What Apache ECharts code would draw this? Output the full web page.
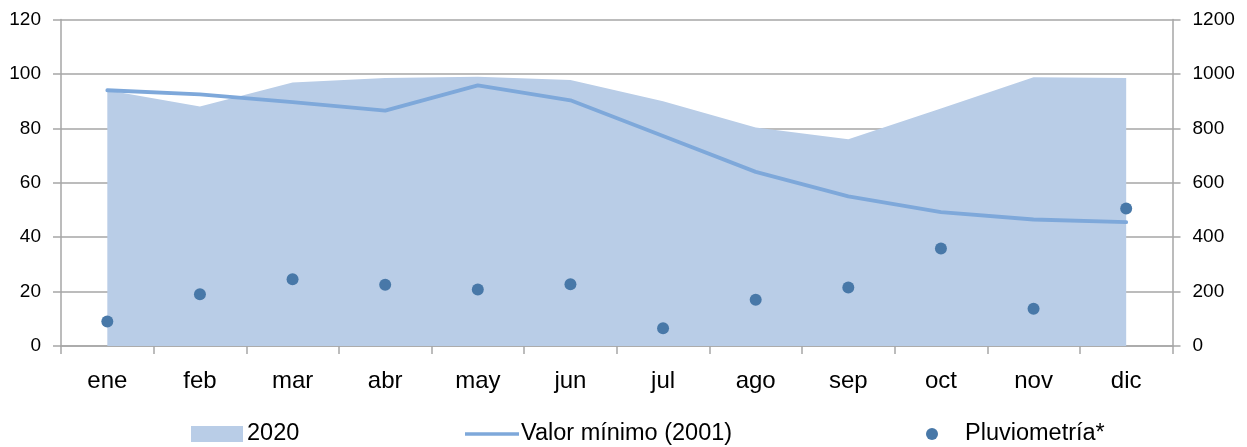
<!DOCTYPE html>
<html>
<head>
<meta charset="utf-8">
<script src="https://cdn.jsdelivr.net/npm/echarts@6/dist/echarts.min.js"></script>
<style>
  html, body { margin: 0; padding: 0; background: #fff; }
  #chart { width: 1247px; height: 447px; }
</style>
</head>
<body>
<div id="chart"></div>
<script>
// meses
var months = ['ene', 'feb', 'mar', 'abr', 'may', 'jun', 'jul', 'ago', 'sep', 'oct', 'nov', 'dic'];
// 2020 (eje izquierdo)
var year2020 = [94, 88, 96.8, 98.5, 99, 97.8, 90, 80.3, 76, 87.3, 98.8, 98.5];
// valor minimo 2001 (eje izquierdo)
var minimo2001 = [94, 92.5, 89.6, 86.5, 95.8, 90.3, 77.2, 64, 55, 49.2, 46.5, 45.5];
// pluviometria (eje derecho)
var pluvio = [90, 190, 245, 225, 208, 227, 65, 170, 215, 358, 137, 505];

var leftTicks = { min: 0, max: 120, interval: 20 };
var rightTicks = { min: 0, max: 1200, interval: 200 };

var FONT = 'Liberation Sans';
var GRAY = '#a6a6a6';
var legendText = { fontSize: 23.5, fontFamily: FONT, color: '#000' };

var chart = echarts.init(document.getElementById('chart'));
var option = {
    animation: false,
    textStyle: { fontFamily: FONT, color: '#000' },
    grid: { left: 61, right: 74.5, top: 19.5, bottom: 101 },
    legend: [
        {
            left: 191, top: 422, padding: 0, itemWidth: 52, itemHeight: 16, itemGap: 0,
            textStyle: Object.assign({ padding: [0, 0, 0, -1] }, legendText),
            data: [{ name: '2020', icon: 'rect' }]
        },
        {
            left: 465, top: 422, padding: 0, itemWidth: 54, itemHeight: 3.5,
            textStyle: Object.assign({ padding: [0, 0, 0, -3] }, legendText),
            data: [{ name: 'Valor mínimo (2001)', icon: 'rect' }]
        },
        {
            left: 926, top: 422, padding: 0, itemWidth: 12, itemHeight: 12,
            textStyle: Object.assign({ padding: [0, 0, 0, 22] }, legendText),
            data: [{ name: 'Pluviometría*', icon: 'circle' }]
        }
    ],
    xAxis: {
        type: 'category',
        data: months,
        boundaryGap: true,
        axisLine: { lineStyle: { color: GRAY, width: 1.5 } },
        axisTick: { show: true, length: 8, lineStyle: { color: GRAY, width: 1.5 } },
        axisLabel: { fontSize: 24, color: '#000', margin: 23, fontFamily: FONT }
    },
    yAxis: [
        {
            type: 'value',
            min: leftTicks.min, max: leftTicks.max, interval: leftTicks.interval,
            axisLine: { show: true, lineStyle: { color: GRAY, width: 1.5 } },
            axisTick: { show: true, length: 8, lineStyle: { color: GRAY, width: 1.5 } },
            axisLabel: { fontSize: 19, color: '#000', margin: 20, fontFamily: FONT },
            splitLine: { show: true, lineStyle: { color: GRAY, width: 1.5 } }
        },
        {
            type: 'value',
            position: 'right',
            min: rightTicks.min, max: rightTicks.max, interval: rightTicks.interval,
            axisLine: { show: true, lineStyle: { color: GRAY, width: 1.5 } },
            axisTick: { show: true, length: 8, lineStyle: { color: GRAY, width: 1.5 } },
            axisLabel: {
                fontSize: 19, color: '#000', margin: 20, fontFamily: FONT,
                formatter: function (v) { return String(v); }
            },
            splitLine: { show: false }
        }
    ],
    series: [
        {
            name: '2020',
            type: 'line',
            yAxisIndex: 0,
            data: year2020,
            symbol: 'none',
            itemStyle: { color: '#b9cde7' },
            lineStyle: { width: 0 },
            areaStyle: { color: '#b9cde7', opacity: 1 },
            z: 1
        },
        {
            name: 'Valor mínimo (2001)',
            type: 'line',
            yAxisIndex: 0,
            data: minimo2001,
            symbol: 'none',
            itemStyle: { color: '#7ea8da' },
            lineStyle: { color: '#7ea8da', width: 3.8, cap: 'round' },
            z: 3
        },
        {
            name: 'Pluviometría*',
            type: 'scatter',
            yAxisIndex: 1,
            data: pluvio,
            symbol: 'circle',
            symbolSize: 12,
            itemStyle: { color: '#4878a8', opacity: 1 },
            z: 4
        }
    ]
};
chart.setOption(option);
</script>
</body>
</html>
